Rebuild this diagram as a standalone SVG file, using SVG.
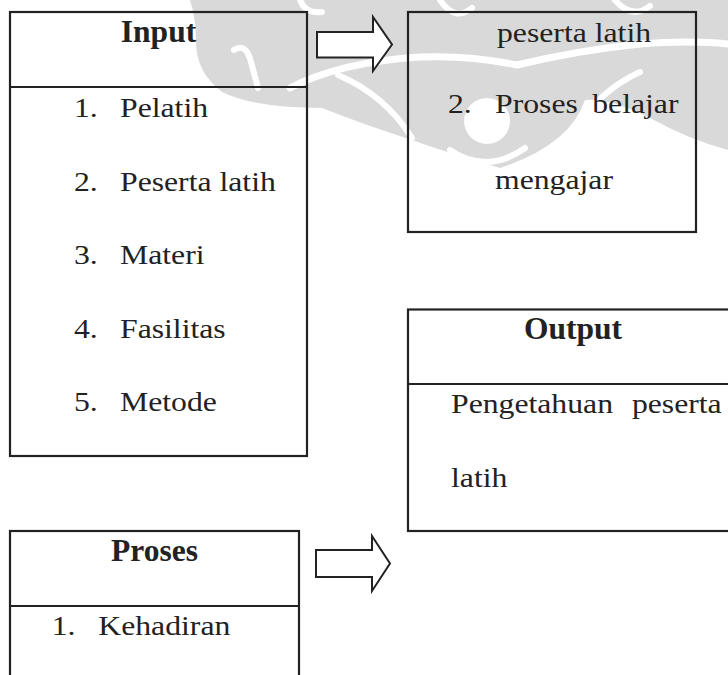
<svg xmlns="http://www.w3.org/2000/svg" width="728" height="675" viewBox="0 0 728 675">
<style>
.bg{fill:#ffffff}
.wm{fill:#d9d9d9}
.wmw{fill:none;stroke:#ffffff;stroke-linecap:round}
.box{fill:none;stroke:#222;stroke-width:2.2}
.arrow{fill:#ffffff;stroke:#222;stroke-width:2;stroke-linejoin:miter}
.h{font-family:"Liberation Serif","Times New Roman",serif;font-weight:bold;font-size:31.5px;fill:#222;text-anchor:middle}
.t{font-family:"Liberation Serif","Times New Roman",serif;font-size:27px;fill:#222}
.e{text-anchor:end}
</style>
<rect class="bg" x="0" y="0" width="728" height="675"/>
<g id="watermark">
<path class="wm" d="M190 0 L728 0 L728 150 Q690 140 650 118 Q610 98 585 100 Q570 145 500 168 Q445 152 412 140 Q365 125 322 108 Q255 108 222 92 Q196 72 196 42 Q196 18 190 0 Z"/>
<path class="wmw" stroke-width="7" d="M290 88 Q340 62 420 57 Q470 55 517 65 Q580 50 640 44 Q690 40 728 44"/>
<path class="wmw" stroke-width="6" d="M234 50 Q246 42 251 62 L258 88"/>
<path class="wmw" stroke-width="6" d="M338 75 Q385 95 412 138"/>
<path class="wmw" stroke-width="6" d="M640 72 Q600 90 575 130"/>
<circle cx="487" cy="121" r="23" fill="#ffffff"/>
<path class="wmw" stroke-width="6" d="M450 150 Q487 175 525 148"/>
<path class="wmw" stroke-width="6" d="M300 0 Q305 14 322 12"/>
<path class="wmw" stroke-width="6" d="M440 0 Q455 22 472 8"/>
<path class="wmw" stroke-width="6" d="M615 0 Q632 20 650 6"/>
</g>
<g id="connectors">
<polygon class="arrow" points="317,32 373,32 373,17 392,44.5 373,71 373,57.5 317,57.5"/>
<polygon class="arrow" points="316,550 372,550 372,536 390,563.5 372,591 372,577 316,577"/>
</g>
<g id="input">
<rect class="box" x="10" y="12" width="297" height="444"/>
<line class="box" x1="10" y1="87" x2="307" y2="87"/>
<text class="h" x="158.5" y="42">Input</text>
<text class="t" transform="matrix(1.175 0 0 1 74 117)">1.</text>
<text class="t" transform="matrix(1.175 0 0 1 120 117)">Pelatih</text>
<text class="t" transform="matrix(1.175 0 0 1 74 190.5)">2.</text>
<text class="t" transform="matrix(1.175 0 0 1 120 190.5)">Peserta latih</text>
<text class="t" transform="matrix(1.175 0 0 1 74 264)">3.</text>
<text class="t" transform="matrix(1.175 0 0 1 120 264)">Materi</text>
<text class="t" transform="matrix(1.175 0 0 1 74 337.5)">4.</text>
<text class="t" transform="matrix(1.175 0 0 1 120 337.5)">Fasilitas</text>
<text class="t" transform="matrix(1.175 0 0 1 74 411)">5.</text>
<text class="t" transform="matrix(1.175 0 0 1 120 411)">Metode</text>
</g>
<g id="proses-lanjutan">
<rect class="box" x="408" y="12" width="288" height="220"/>
<text class="t" transform="matrix(1.175 0 0 1 497 41.7)">peserta latih</text>
<text class="t" transform="matrix(1.175 0 0 1 448 113.3)">2.</text>
<text class="t" transform="matrix(1.175 0 0 1 495 113.3)">Proses</text>
<text class="t e" transform="matrix(1.175 0 0 1 678.5 113.3)">belajar</text>
<text class="t" transform="matrix(1.175 0 0 1 495 189)">mengajar</text>
</g>
<g id="output">
<rect class="box" x="408" y="309.5" width="340" height="221.5"/>
<line class="box" x1="408" y1="384" x2="748" y2="384"/>
<text class="h" x="573" y="339.3">Output</text>
<text class="t" transform="matrix(1.175 0 0 1 451 413.3)">Pengetahuan</text>
<text class="t e" transform="matrix(1.175 0 0 1 721.7 413.3)">peserta</text>
<text class="t" transform="matrix(1.175 0 0 1 451 486.5)">latih</text>
</g>
<g id="proses">
<rect class="box" x="10" y="531" width="289" height="160"/>
<line class="box" x1="10" y1="606" x2="299" y2="606"/>
<text class="h" x="154.5" y="560.7">Proses</text>
<text class="t" transform="matrix(1.175 0 0 1 51.7 635)">1.</text>
<text class="t" transform="matrix(1.175 0 0 1 98.3 635)">Kehadiran</text>
</g>
</svg>
